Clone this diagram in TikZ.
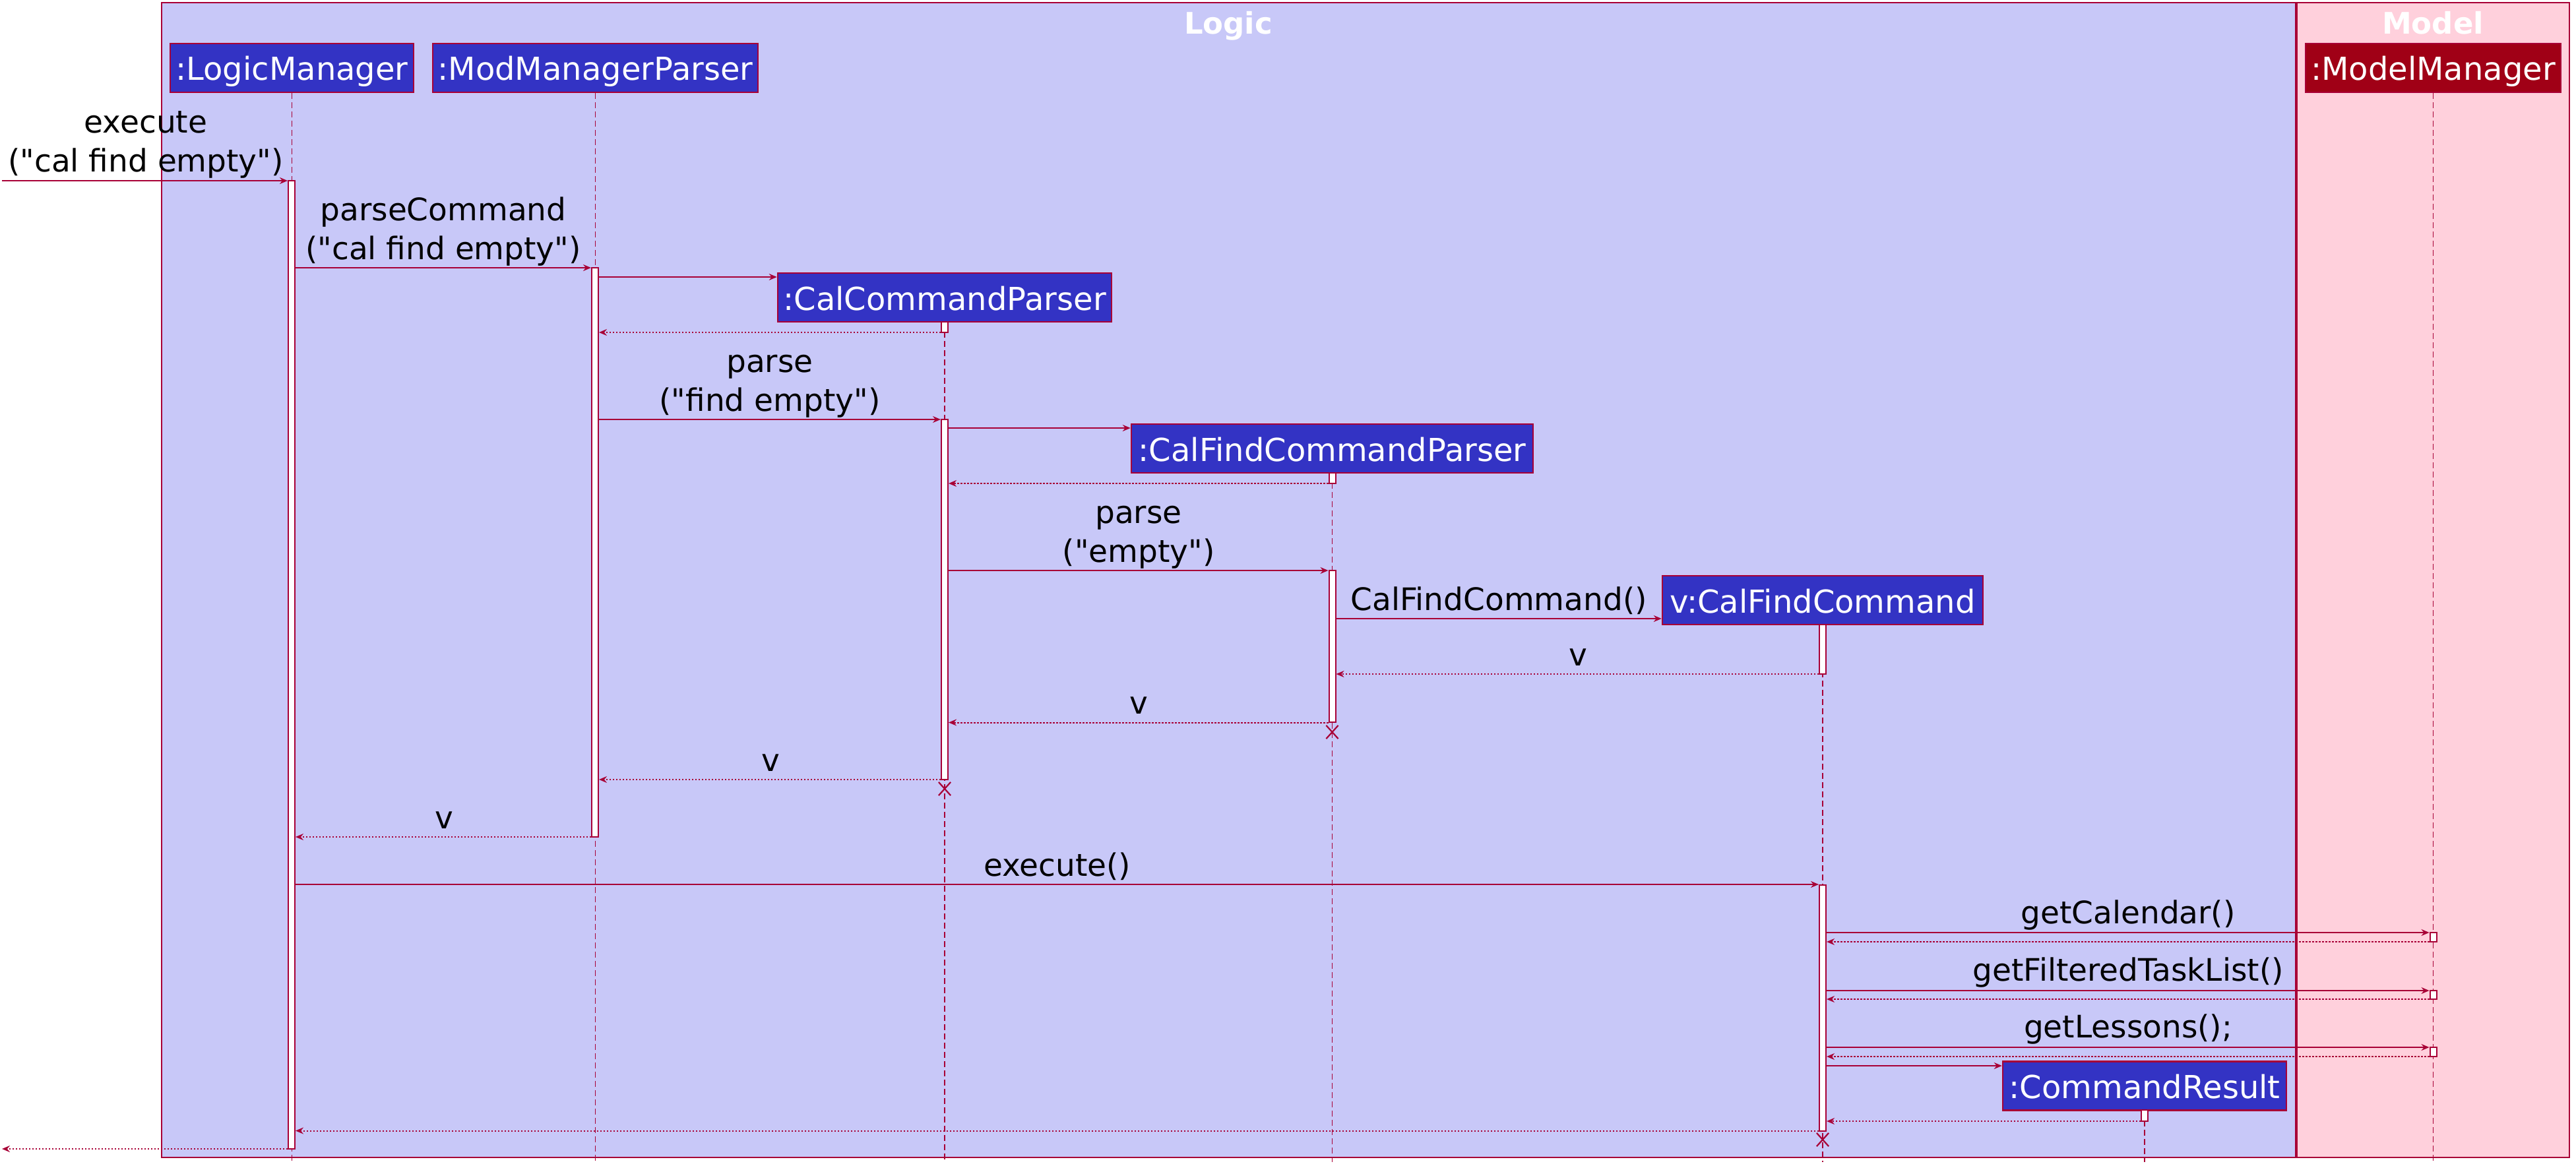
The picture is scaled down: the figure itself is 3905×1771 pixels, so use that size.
\documentclass[tikz,border=0pt]{standalone}
\usepackage{fontspec}
\newfontfamily\dvs{DejaVu Sans}
\usetikzlibrary{arrows.meta,shapes.misc}
\definecolor{crim}{HTML}{A80036}
\definecolor{logicbg}{HTML}{C8C8F8}
\definecolor{modelbg}{HTML}{FFD0DC}
\definecolor{partblue}{HTML}{3333C4}
\definecolor{partred}{HTML}{A00016}
\tikzset{
  pkgbox/.style={draw=crim, line width=2.5pt},
  part/.style={draw=crim, line width=2.5pt, fill=partblue, text=white, inner sep=0pt,
    minimum height=74pt, text height=38pt, text depth=0pt, font=\dvs\fontsize{48}{58}\selectfont},
  ftitle/.style={text=white, font=\dvs\bfseries\fontsize{45}{54}\selectfont, anchor=base, inner sep=0pt},
  lbl/.style={font=\dvs\fontsize{47}{59}\selectfont, anchor=base, inner sep=0pt, align=center},
  life/.style={crim, line width=1.4pt, dash pattern=on 9pt off 5pt},
  actbar/.style={draw=crim, line width=2pt, fill=white, minimum width=10pt, inner sep=0pt},
  msg/.style={crim, line width=2.2pt, -{Stealth[length=12pt,width=10pt,inset=4pt]}},
  ret/.style={crim, line width=2pt, dash pattern=on 2.5pt off 2.5pt, -{Stealth[length=12pt,width=10pt,inset=4pt]}},
  kill/.style={draw=crim, line width=2.2pt, cross out, minimum width=16pt, minimum height=18pt, inner sep=0pt},
}
\begin{document}
\begin{tikzpicture}[x=1pt,y=-1pt]
\useasboundingbox (0,0) rectangle (3905,1771);
% packages
\filldraw[pkgbox, fill=logicbg] (245,4) rectangle (3480,1755);
\filldraw[pkgbox, fill=modelbg] (3482,4) rectangle (3895,1755);
\node[ftitle] (logicT) at (1862,52) {Logic};
\node[ftitle] (modelT) at (3688,52) {Model};
% participants
\node[part, minimum width=369pt] (lm) at (442.5,103) {:LogicManager};
\node[part, minimum width=493pt] (mmp) at (902.5,103) {:ModManagerParser};
\node[part, minimum width=506pt] (ccp) at (1432,451) {:CalCommandParser};
\node[part, minimum width=609pt] (cfcp) at (2019.5,680) {:CalFindCommandParser};
\node[part, minimum width=486pt] (vcf) at (2763,910) {v:CalFindCommand};
\node[part, minimum width=430pt] (cr) at (3251,1646.5) {:CommandResult};
\node[part, minimum width=387pt, fill=partred] (mm) at (3688.5,103) {:ModelManager};
% lifelines
\foreach \p in {lm,mmp,ccp,cfcp,vcf,cr,mm}
  \draw[life] (\p.south) -- (\p.south |- 0,1762);
% activation bars
\node[actbar, minimum height=1468pt] (lmA) at (442,1008) {};
\node[actbar, minimum height=863pt] (mmpA) at (902,837.5) {};
\node[actbar, minimum height=16pt] (ccpA0) at (1432,496) {};
\node[actbar, minimum height=546pt] (ccpA) at (1432,909) {};
\node[actbar, minimum height=16pt] (cfcpA0) at (2019.5,725) {};
\node[actbar, minimum height=230pt] (cfcpA) at (2019.5,980) {};
\node[actbar, minimum height=75pt] (vA0) at (2763,984.5) {};
\node[actbar, minimum height=373pt] (vA) at (2763,1528) {};
\node[actbar, minimum height=14pt] (mmA1) at (3688.5,1421) {};
\node[actbar, minimum height=13pt] (mmA2) at (3688.5,1508.5) {};
\node[actbar, minimum height=14pt] (mmA3) at (3688.5,1595) {};
\node[actbar, minimum height=17pt] (crA) at (3251,1691.5) {};
% free ends
\coordinate (inS) at (3,274);
\coordinate (outE) at (3,1742);
% messages
\draw[msg] (inS) -- (lmA.west |- 0,274);
\node[lbl] (l1) at (221,261) {execute\\("cal find empty")};
\draw[msg] (lmA.east |- 0,406) -- (mmpA.west |- 0,406);
\node[lbl] (l2) at (672,393) {parseCommand\\("cal find empty")};
\draw[msg] (mmpA.east |- 0,420) -- (ccp.west |- 0,420);
\draw[ret] (ccpA0.west |- 0,504) -- (mmpA.east |- 0,504);
\draw[msg] (mmpA.east |- 0,636) -- (ccpA.west |- 0,636);
\node[lbl] (l3) at (1167,623) {parse\\("find empty")};
\draw[msg] (ccpA.east |- 0,649) -- (cfcp.west |- 0,649);
\draw[ret] (cfcpA0.west |- 0,733) -- (ccpA.east |- 0,733);
\draw[msg] (ccpA.east |- 0,865) -- (cfcpA.west |- 0,865);
\node[lbl] (l4) at (1726,852) {parse\\("empty")};
\draw[msg] (cfcpA.east |- 0,938) -- (vcf.west |- 0,938);
\node[lbl] (l5) at (2272,925) {CalFindCommand()};
\draw[ret] (vA0.west |- 0,1022) -- (cfcpA.east |- 0,1022);
\node[lbl] (l6) at (2392,1009) {v};
\draw[ret] (cfcpA.west |- 0,1095.5) -- (ccpA.east |- 0,1095.5);
\node[lbl] (l7) at (1726,1082) {v};
\draw[ret] (ccpA.west |- 0,1182) -- (mmpA.east |- 0,1182);
\node[lbl] (l8) at (1168,1169) {v};
\draw[ret] (mmpA.west |- 0,1269) -- (lmA.east |- 0,1269);
\node[lbl] (l9) at (673,1256) {v};
\draw[msg] (lmA.east |- 0,1341) -- (vA.west |- 0,1341);
\node[lbl] (l10) at (1602.5,1328) {execute()};
\draw[msg] (vA.east |- 0,1414) -- (mmA1.west |- 0,1414);
\node[lbl] (l11) at (3226,1400) {getCalendar()};
\draw[ret] (mmA1.west |- 0,1428) -- (vA.east |- 0,1428);
\draw[msg] (vA.east |- 0,1502) -- (mmA2.west |- 0,1502);
\node[lbl] (l12) at (3226,1487) {getFilteredTaskList()};
\draw[ret] (mmA2.west |- 0,1515) -- (vA.east |- 0,1515);
\draw[msg] (vA.east |- 0,1588) -- (mmA3.west |- 0,1588);
\node[lbl] (l13) at (3226,1573) {getLessons();};
\draw[ret] (mmA3.west |- 0,1602) -- (vA.east |- 0,1602);
\draw[msg] (vA.east |- 0,1616) -- (cr.west |- 0,1616);
\draw[ret] (crA.west |- 0,1700) -- (vA.east |- 0,1700);
\draw[ret] (vA.west |- 0,1714.5) -- (lmA.east |- 0,1714.5);
\draw[ret] (lmA.west |- 0,1742) -- (outE);
% destructions
\node[kill] (x1) at (2019.5,1110) {};
\node[kill] (x2) at (1432,1196) {};
\node[kill] (x3) at (2763,1728) {};
\end{tikzpicture}
\end{document}
